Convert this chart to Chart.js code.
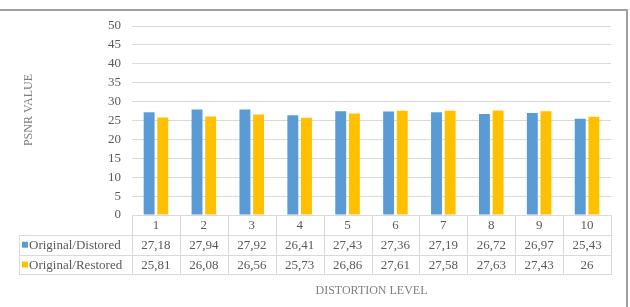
<!DOCTYPE html>
<html>
<head>
<meta charset="utf-8">
<script src="https://cdn.jsdelivr.net/npm/chart.js@4.4.0/dist/chart.umd.min.js"></script>
<style>
  html, body { margin: 0; padding: 0; background: #ffffff; }
  #wrap { width: 630px; height: 307px; }
</style>
</head>
<body>
<div id="wrap"><canvas id="c" width="630" height="307"></canvas></div>
<script>
const categories = ['1', '2', '3', '4', '5', '6', '7', '8', '9', '10'];
const seriesNames = ['Original/Distored', 'Original/Restored'];
const distored = [27.18, 27.94, 27.92, 26.41, 27.43, 27.36, 27.19, 26.72, 26.97, 25.43];
const restored = [25.81, 26.08, 26.56, 25.73, 26.86, 27.61, 27.58, 27.63, 27.43, 26];
const yTicks = [0, 5, 10, 15, 20, 25, 30, 35, 40, 45, 50];
const seriesColors = ['#5B9BD5', '#FFC000'];
const xTitle = 'DISTORTION LEVEL';
const yTitle = 'PSNR VALUE';

const FONT = '"Liberation Serif", "Times New Roman", serif';
const TEXT = '#595959';
const GRID = '#D9D9D9';

const fmt = v => String(v).replace('.', ',');

const tablePlugin = {
  id: 'dataTable',
  afterDraw(chart) {
    const ctx = chart.ctx;
    const ca = chart.chartArea;
    const xs = chart.scales.x;
    const n = categories.length;
    const half = (xs.getPixelForValue(1) - xs.getPixelForValue(0)) / 2;
    const rowH = 19.8;
    const r0 = ca.bottom, r1 = r0 + rowH, r2 = r1 + rowH, r3 = r2 + rowH;
    const tableLeft = 19;
    ctx.save();
    // grid lines of table
    ctx.strokeStyle = GRID;
    ctx.lineWidth = 1;
    ctx.beginPath();
    for (let i = 0; i < n; i++) {
      const x = Math.round(xs.getPixelForValue(i) - half) + 0.5;
      ctx.moveTo(x, r0); ctx.lineTo(x, r3);
    }
    const xr = Math.round(xs.getPixelForValue(n - 1) + half) + 0.5;
    ctx.moveTo(xr, r0); ctx.lineTo(xr, r3);
    ctx.moveTo(tableLeft + 0.5, Math.round(r1)); ctx.lineTo(tableLeft + 0.5, Math.round(r3));
    [r1, r2, r3].forEach(y => {
      const yy = Math.round(y) + 0.5;
      ctx.moveTo(tableLeft, yy); ctx.lineTo(xr, yy);
    });
    ctx.stroke();

    // text
    ctx.fillStyle = TEXT;
    ctx.font = '13px ' + FONT;
    ctx.textBaseline = 'middle';
    ctx.textAlign = 'center';
    categories.forEach((c, i) => {
      const x = xs.getPixelForValue(i);
      ctx.fillText(c, x, (r0 + r1) / 2 + 1);
      ctx.fillText(fmt(distored[i]), x, (r1 + r2) / 2 + 1);
      ctx.fillText(fmt(restored[i]), x, (r2 + r3) / 2 + 1);
    });
    // legend keys
    ctx.textAlign = 'left';
    [[r1, r2], [r2, r3]].forEach((r, k) => {
      const cy = (r[0] + r[1]) / 2;
      ctx.fillStyle = seriesColors[k];
      ctx.fillRect(22, cy - 3, 6, 6);
      ctx.fillStyle = TEXT;
      ctx.fillText(seriesNames[k], 29, cy + 1);
    });

    // y axis title
    ctx.save();
    ctx.translate(29, 110);
    ctx.rotate(-Math.PI / 2);
    ctx.textAlign = 'center';
    ctx.font = '12px ' + FONT;
    ctx.fillStyle = '#7F7F7F';
    ctx.fillText(yTitle, 0, 0);
    ctx.restore();

    // outer frame (top and right)
    ctx.strokeStyle = '#A0A0A0';
    ctx.lineWidth = 2;
    ctx.beginPath();
    ctx.moveTo(0, 10); ctx.lineTo(627, 10); ctx.lineTo(627, 307);
    ctx.stroke();
    ctx.restore();
  }
};

new Chart(document.getElementById('c'), {
  type: 'bar',
  data: {
    labels: categories,
    datasets: [
      { label: seriesNames[0], data: distored, backgroundColor: seriesColors[0], borderWidth: 0 },
      { label: seriesNames[1], data: restored, backgroundColor: seriesColors[1], borderWidth: 0 }
    ]
  },
  options: {
    responsive: false,
    devicePixelRatio: 1,
    animation: false,
    layout: { padding: { left: 0, right: 19, top: 26, bottom: 0 } },
    datasets: { bar: { categoryPercentage: 0.57, barPercentage: 0.8 } },
    plugins: { legend: { display: false }, tooltip: { enabled: false } },
    scales: {
      x: {
        grid: { display: false },
        border: { display: true, color: GRID },
        ticks: { display: false },
        title: {
          display: true, text: xTitle, color: '#7F7F7F',
          font: { family: FONT, size: 12 }, padding: { top: 0, bottom: 9 }
        },
        afterFit(s) { s.height = 92; }
      },
      y: {
        min: 0, max: 50,
        afterBuildTicks(s) { s.ticks = yTicks.map(v => ({ value: v })); },
        grid: { color: GRID, drawTicks: false },
        border: { display: false },
        ticks: { color: TEXT, font: { family: FONT, size: 13 }, padding: 11 },
        afterFit(s) { s.width = 132; }
      }
    }
  },
  plugins: [tablePlugin]
});
</script>
</body>
</html>
